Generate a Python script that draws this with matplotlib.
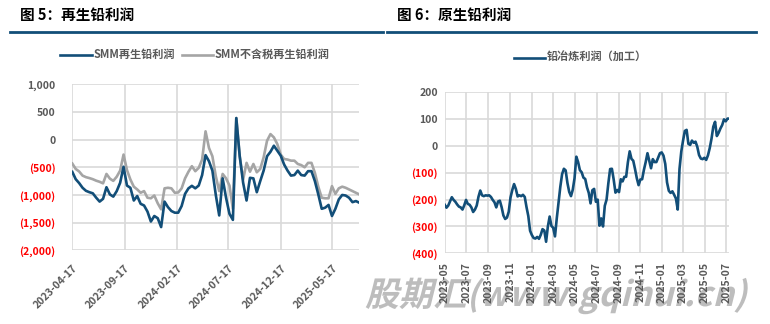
import matplotlib
matplotlib.use("Agg")
import matplotlib.pyplot as plt
import matplotlib.dates as mdates
from matplotlib.ticker import FuncFormatter, MultipleLocator
from matplotlib.textpath import TextPath
from matplotlib.patches import PathPatch
from matplotlib.font_manager import FontProperties
from matplotlib.transforms import Affine2D, IdentityTransform
import pandas as pd

plt.rcParams["font.family"] = ["Noto Sans CJK SC", "DejaVu Sans"]

BLUE = "#124E78"
GRAY = "#A5A5A5"
TEXT = "#595959"
RED = "#FF0000"
GRID = "#D9D9D9"

# 再生铅利润（元/吨），10日采样
recycled_start = "2023-04-17"
smm_recycled = [
    -583, -715, -785, -870, -925, -950, -970, -1050, -1120, -1070,
    -860, -990, -1030, -930, -780, -490, -830, -870, -1100, -1020,
    -1160, -1190, -1300, -1480, -1380, -1420, -1580, -1120, -1220, -1290,
    -1320, -1320, -1200, -980, -880, -835, -880, -830, -640, -280,
    -390, -560, -1000, -1370, -700, -1050, -1340, -1450, 390, -300,
    -780, -1100, -690, -700, -950, -750, -560, -300, -220, -110,
    -200, -290, -450, -560, -650, -640, -560, -640, -650, -570,
    -570, -750, -990, -1250, -1230, -1180, -1380, -1250, -1080, -1000,
    -1010, -1050, -1130, -1110, -1140,
]
smm_recycled_ex_tax = [
    -432, -530, -575, -650, -678, -695, -715, -742, -762, -790,
    -620, -705, -745, -670, -560, -270, -550, -720, -850, -900,
    -960, -930, -1050, -1060, -1010, -1150, -1260, -880, -870, -880,
    -960, -955, -880, -700, -580, -480, -570, -510, -360, 150,
    -150, -300, -660, -930, -620, -700, -830, -1250, 390, -300,
    -720, -420, -580, -440, -590, -530, -320, -20, 100, 40,
    -80, -270, -350, -360, -380, -380, -440, -460, -500, -420,
    -420, -600, -850, -1050, -1060, -1060, -840, -980, -880, -850,
    -870, -900, -930, -960, -990,
]
recycled_ticks = ["2023-04-17", "2023-09-17", "2024-02-17", "2024-07-17",
                  "2024-12-17", "2025-05-17"]

# 原生铅冶炼利润（加工），5日采样
primary_start = "2023-05-01"
smelting_profit = [
    -219, -230, -222, -206, -191, -201, -208, -218, -226, -229,
    -237, -221, -201, -216, -219, -229, -246, -237, -222, -189,
    -166, -184, -187, -184, -185, -184, -190, -201, -210, -229,
    -207, -204, -228, -259, -272, -267, -245, -192, -164, -142,
    -160, -188, -184, -187, -182, -190, -228, -261, -316, -332,
    -343, -345, -339, -346, -331, -310, -315, -357, -300, -263,
    -298, -305, -337, -270, -212, -152, -105, -85, -91, -138,
    -171, -187, -163, -120, -40, -60, -90, -98, -118, -123,
    -154, -175, -214, -165, -160, -208, -200, -297, -270, -300,
    -223, -200, -139, -86, -85, -125, -174, -164, -172, -124,
    -132, -115, -115, -60, -20, -48, -55, -86, -120, -146,
    -125, -124, -89, -60, -27, -55, -83, -49, -60, -60,
    -44, -27, -24, -36, -67, -136, -167, -175, -169, -182,
    -196, -237, -86, -21, 20, 56, 60, 8, 4, 20,
    12, 16, -3, -34, -47, -49, -44, -52, -35, -8,
    27, 72, 90, 37, 49, 65, 78, 99, 92, 102,
    102,
]

watermark = "股期汇(www.gqihui.cn)"


def paren_fmt(v, pos):
    if v < 0:
        return f"({abs(v):,.0f})"
    return f"{v:,.0f}"


def style_axis(ax, step, pad):
    ax.set_facecolor("white")
    for s in ax.spines.values():
        s.set_visible(False)
    ax.grid(True, color=GRID, linewidth=1.2)
    ax.set_axisbelow(True)
    ax.yaxis.set_major_locator(MultipleLocator(step))
    ax.yaxis.set_major_formatter(FuncFormatter(paren_fmt))
    ax.tick_params(axis="both", length=0, labelsize=7.5, labelcolor=TEXT)
    ax.tick_params(axis="y", pad=pad)
    for lab in ax.get_yticklabels():
        lab.set_fontweight("bold")
        txt = lab.get_text()
        lab.set_color(RED if txt.startswith("(") else TEXT)


fig = plt.figure(figsize=(7.7, 3.24), dpi=100, facecolor="white")

# 标题与蓝色分隔线
fig.text(20 / 770, 1 - 15 / 324, "图 5：再生铅利润", fontsize=10.5, fontweight="bold",
         color="black", va="center", ha="left")
fig.text(397 / 770, 1 - 15 / 324, "图 6：原生铅利润", fontsize=10.5, fontweight="bold",
         color="black", va="center", ha="left")
fig.add_artist(plt.Line2D([10 / 770, 383 / 770], [1 - 32.3 / 324] * 2, color=BLUE, lw=2))
fig.add_artist(plt.Line2D([387 / 770, 756 / 770], [1 - 32.3 / 324] * 2, color=BLUE, lw=2))

# 左图：再生铅
ax1 = fig.add_axes([72.3 / 770, 1 - 250.3 / 324, 287 / 770, 166 / 324], zorder=1)
d1 = pd.date_range(recycled_start, periods=len(smm_recycled), freq="10D")
ax1.plot(d1, smm_recycled_ex_tax, color=GRAY, lw=1.9, zorder=2)
ax1.plot(d1, smm_recycled, color=BLUE, lw=1.9, zorder=3)
ax1.set_ylim(-2000, 1000)
ax1.set_xlim(d1[0], d1[-1])
ax1.set_xticks(pd.to_datetime(recycled_ticks))
ax1.set_xticklabels(recycled_ticks, rotation=45, ha="right", rotation_mode="anchor",
                    fontweight="bold")
style_axis(ax1, 500, 12)
ax1.tick_params(axis="x", pad=9)

# 左图图例
fig.add_artist(plt.Line2D([60 / 770, 92 / 770], [1 - 54.5 / 324] * 2, color=BLUE, lw=1.9))
fig.text(94 / 770, 1 - 54.5 / 324, "SMM再生铅利润", fontsize=8, fontweight="bold",
         color=TEXT, va="center")
fig.add_artist(plt.Line2D([182 / 770, 213 / 770], [1 - 54.5 / 324] * 2, color=GRAY, lw=1.9))
fig.text(215 / 770, 1 - 54.5 / 324, "SMM不含税再生铅利润", fontsize=8, fontweight="bold",
         color=TEXT, va="center")

# 右图：原生铅
ax2 = fig.add_axes([444.7 / 770, 1 - 253.3 / 324, 284.6 / 770, 161 / 324], zorder=1)
d2 = pd.date_range(primary_start, periods=len(smelting_profit), freq="5D")
ax2.plot(d2, smelting_profit, color=BLUE, lw=1.9)
ax2.set_ylim(-400, 200)
ax2.set_xlim(d2[0], d2[-1])
ax2.xaxis.set_major_locator(mdates.MonthLocator(bymonth=range(1, 13, 2)))
ax2.xaxis.set_major_formatter(mdates.DateFormatter("%Y-%m"))
style_axis(ax2, 100, 5)
for lab in ax2.get_xticklabels():
    lab.set_rotation(90)
    lab.set_fontweight("bold")
ax2.tick_params(axis="x", pad=6)

fig.add_artist(plt.Line2D([514 / 770, 545 / 770], [1 - 57.5 / 324] * 2, color=BLUE, lw=1.9))
fig.text(547 / 770, 1 - 57.5 / 324, "铅冶炼利润（加工）", fontsize=8, fontweight="bold",
         color=TEXT, va="center")

# 斜体水印，置于坐标轴之下
fp = FontProperties(family="Noto Sans CJK SC", weight="bold")
tp = TextPath((0, 0), watermark, size=30, prop=fp)
ext = tp.get_extents()
k = 378 / ext.width
wm_tf = Affine2D().translate(-ext.x0, 0).scale(k).skew_deg(14, 0).translate(366, 324 - 306)
wm = PathPatch(tp, transform=wm_tf + IdentityTransform(), facecolor="#B2B2B2",
               edgecolor="none", alpha=0.85, zorder=0)
fig.add_artist(wm)

fig.savefig("out.png", dpi=100, facecolor="white")
